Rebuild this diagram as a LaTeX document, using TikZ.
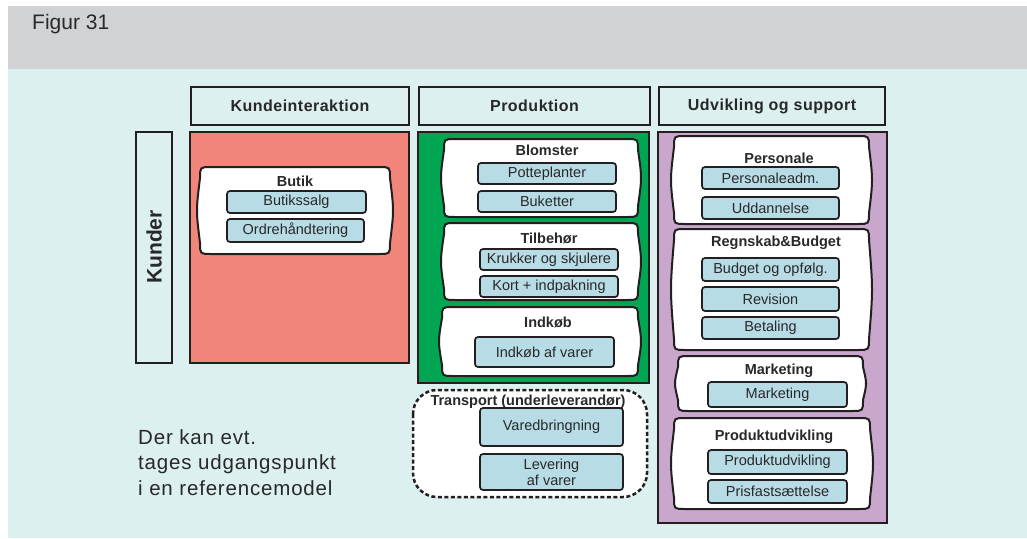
\documentclass[tikz,border=0pt]{standalone}
\usepackage{fontspec}
\setmainfont{Liberation Sans}
\definecolor{bandgray}{RGB}{209,210,212}
\definecolor{bgcyan}{RGB}{220,240,239}
\definecolor{inkline}{RGB}{35,31,32}
\definecolor{inktext}{RGB}{40,40,40}
\definecolor{areared}{RGB}{242,133,122}
\definecolor{areagreen}{RGB}{0,166,81}
\definecolor{areapurple}{RGB}{201,166,203}
\definecolor{itemblue}{RGB}{184,220,230}

% Cloud-like group frame: outer extents x1 y1 x2 y2, sides bulging slightly
\newcommand\wavyframe[5][]{%
  \pgfmathsetmacro\wxl{#2+2}\pgfmathsetmacro\wxr{#4-2}%
  \pgfmathsetmacro\wym{(#3+#5)/2}%
  \draw[groupline,#1] ({\wxl+11},#3) -- ({\wxr-11},#3)
    .. controls (\wxr,#3) .. (\wxr,{#3+11})
    .. controls ({\wxr+4},\wym) .. (\wxr,{#5-11})
    .. controls (\wxr,#5) .. ({\wxr-11},#5)
    -- ({\wxl+11},#5)
    .. controls (\wxl,#5) .. (\wxl,{#5-11})
    .. controls ({\wxl-4},\wym) .. (\wxl,{#3+11})
    .. controls (\wxl,#3) .. cycle;}

\begin{document}
\begin{tikzpicture}[x=1pt,y=-1pt,
  frame/.style={draw=inkline,line width=2pt},
  header/.style={frame,fill=bgcyan,inner sep=0pt,
    font=\bfseries\fontsize{16}{18}\selectfont\addfontfeature{LetterSpace=3},text=inktext},
  groupline/.style={draw=inkline,line width=2pt,fill=white},
  grouptitle/.style={inner sep=0pt,font=\bfseries\fontsize{14.5}{16}\selectfont,text=inktext},
  item/.style={draw=inkline,line width=1.7pt,fill=itemblue,rounded corners=3pt,
    inner sep=0pt,align=center,font=\fontsize{14.5}{16}\selectfont,text=inktext},
]
\useasboundingbox (0,0) rectangle (1027,538);
\fill[white] (0,0) rectangle (1027,538);
\fill[bgcyan] (8,69) rectangle (1027,538);
\fill[bandgray] (8,6) rectangle (1027,69);

\node[anchor=base west,inner sep=0pt,font=\fontsize{21}{24}\selectfont,text=inktext]
  (fig) at (32,29) {Figur 31};

% column headers
\node[header,minimum width=218pt,minimum height=38pt] (hkunde) at (300,106) {Kundeinteraktion};
\node[header,minimum width=231pt,minimum height=38pt] (hprod) at (534.5,106) {Produktion};
\node[header,minimum width=226pt,minimum height=38pt] (hudv) at (772,106) {Udvikling og support};

% customer bar
\node[frame,fill=bgcyan,minimum width=36pt,minimum height=231pt,inner sep=0pt] (kbar) at (154,247) {};
\node[rotate=90,inner sep=0pt,font=\bfseries\fontsize{21}{24}\selectfont,text=inktext]
  (kunder) at (kbar.center) {Kunder};

% column areas
\fill[areared] (190,132) rectangle (409,363);
\draw[frame] (190,132) rectangle (409,363);
\fill[areagreen] (418,132) rectangle (649,383);
\draw[frame] (418,132) rectangle (649,383);
\fill[areapurple] (658,132) rectangle (887,523);
\draw[frame] (658,132) rectangle (887,523);

% Kundeinteraktion
\wavyframe{198}{167}{392}{254}
\node[grouptitle] (butik) at (295,181) {Butik};
\node[item,minimum width=139pt,minimum height=22pt] (salg) at (296.5,202) {Butikssalg};
\node[item,minimum width=137pt,minimum height=23pt] (ordre) at (295.5,230.5) {Ordrehåndtering};

% Produktion
\wavyframe{442}{139}{640}{217}
\node[grouptitle] (blomster) at (547,150) {Blomster};
\node[item,minimum width=138pt,minimum height=21pt] (potte) at (547,173.5) {Potteplanter};
\node[item,minimum width=138pt,minimum height=21pt] (buket) at (547,201.5) {Buketter};

\wavyframe{442}{223}{640}{300}
\node[grouptitle] (tilbehor) at (549,238) {Tilbehør};
\node[item,minimum width=138pt,minimum height=21pt] (krukker) at (549,259.5) {Krukker og skjulere};
\node[item,minimum width=138pt,minimum height=21pt] (kort) at (549,286.5) {Kort + indpakning};

\wavyframe{440}{307}{640}{376}
\node[grouptitle] (indkob) at (548,322) {Indkøb};
\node[item,minimum width=139pt,minimum height=30pt] (indkobvarer) at (544.5,352) {Indkøb af varer};

% external transport
\draw[draw=inkline,line width=2.5pt,dash pattern=on 4pt off 2.5pt,fill=white,rounded corners=24pt]
  (413,390) rectangle (647,497);
\node[grouptitle] (transport) at (528,402) {Transport (underleverandør)};
\node[item,minimum width=143pt,minimum height=38pt] (vared) at (551.5,427) {Varedbringning};
\node[item,minimum width=143pt,minimum height=36pt,font=\fontsize{14.5}{16}\selectfont] (lever) at (551.5,472) {Levering\\af varer};

% Udvikling og support
\wavyframe{672}{136}{871}{224}
\node[grouptitle] (personale) at (779,158) {Personale};
\node[item,minimum width=137pt,minimum height=22pt] (persadm) at (770.5,178) {Personaleadm.};
\node[item,minimum width=137pt,minimum height=22pt] (uddan) at (770.5,208) {Uddannelse};

\wavyframe{672}{229}{871}{350}
\node[grouptitle] (regnskab) at (776,243) {Regnskab\&Budget};
\node[item,minimum width=137pt,minimum height=23pt] (budget) at (770.5,269.5) {Budget og opfølg.};
\node[item,minimum width=137pt,minimum height=24pt] (revision) at (770.5,299) {Revision};
\node[item,minimum width=137pt,minimum height=22pt] (betaling) at (770.5,328) {Betaling};

\wavyframe{676}{356}{865}{411}
\node[grouptitle] (marketing) at (779,371) {Marketing};
\node[item,minimum width=139pt,minimum height=25pt] (mark) at (777.5,394.5) {Marketing};

\wavyframe{672}{418}{872}{509}
\node[grouptitle] (produdv) at (774,437) {Produktudvikling};
\node[item,minimum width=139pt,minimum height=24pt] (pudv) at (777.5,462) {Produktudvikling};
\node[item,minimum width=139pt,minimum height=23pt] (pris) at (777.5,491.5) {Prisfastsættelse};

% note
\node[anchor=base west,inner sep=0pt,align=left,
  font=\fontsize{20.5}{25.5}\selectfont\addfontfeature{LetterSpace=4},text=inktext]
  (note) at (138,495) {Der kan evt.\\tages udgangspunkt\\i en referencemodel};
\end{tikzpicture}
\end{document}
